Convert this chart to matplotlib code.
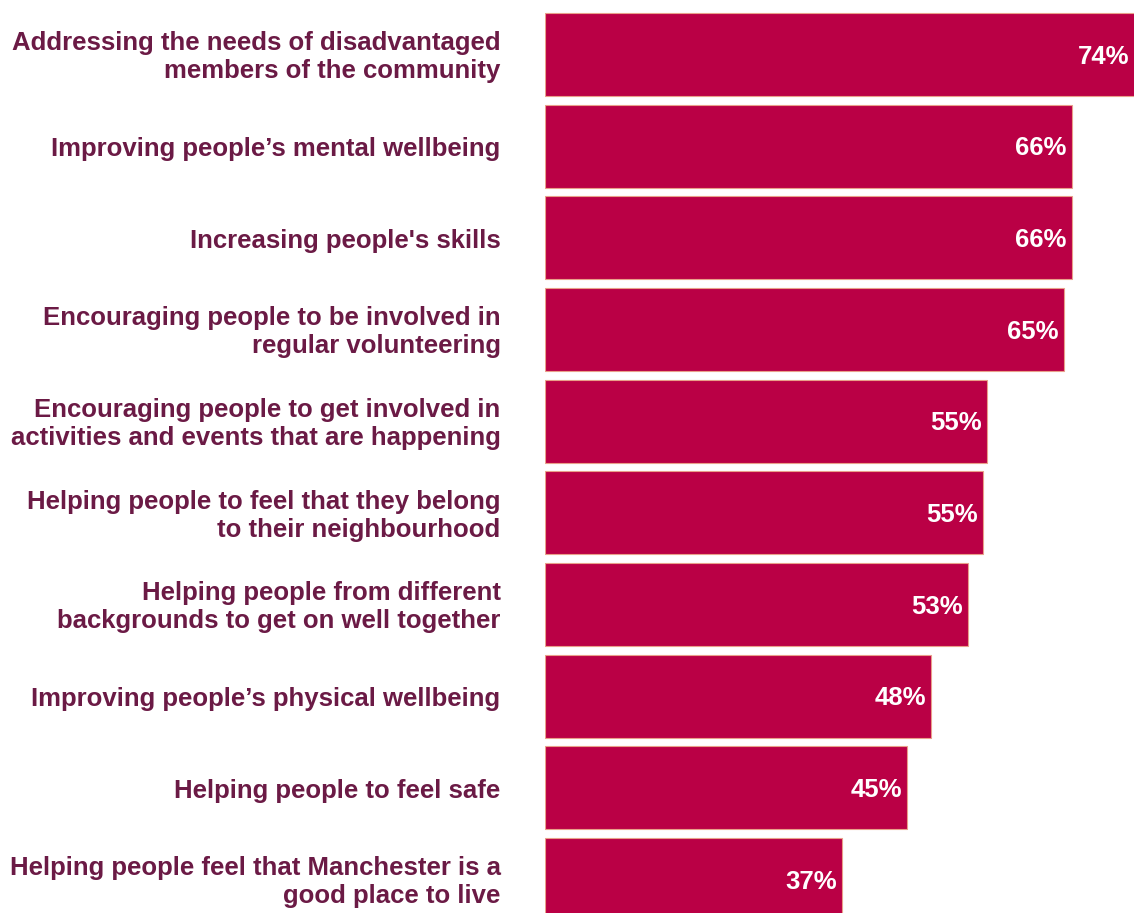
import matplotlib
matplotlib.use("Agg")
import matplotlib.pyplot as plt

categories = [
    "Addressing the needs of disadvantaged\nmembers of the community",
    "Improving people\u2019s mental wellbeing",
    "Increasing people's skills",
    "Encouraging people to be involved in\nregular volunteering",
    "Encouraging people to get involved in\nactivities and events that are happening",
    "Helping people to feel that they belong\nto their neighbourhood",
    "Helping people from different\nbackgrounds to get on well together",
    "Improving people\u2019s physical wellbeing",
    "Helping people to feel safe",
    "Helping people feel that Manchester is a\ngood place to live",
]
values = [74.0, 65.8, 65.8, 64.8, 55.2, 54.7, 52.8, 48.2, 45.2, 37.1]
value_labels = ["74%", "66%", "66%", "65%", "55%", "55%", "53%", "48%", "45%", "37%"]

plt.rcParams['font.family'] = ['Liberation Sans', 'DejaVu Sans']

fig = plt.figure(figsize=(11.34, 9.13), dpi=100)
ax = fig.add_axes([545/1134, 0, 1 - 545/1134, 1])

ypos = list(range(len(values)))
ax.barh(ypos, values, height=0.905, color="#BA0045",
        edgecolor="#E9A08A", linewidth=0.8)

ax.set_xlim(0, 73.6)
ax.set_ylim(9.365, -0.5945)

for y, v, lab in zip(ypos, values, value_labels):
    ax.annotate(lab, xy=(min(v, 73.6), y), xytext=(-3.5, -1.5), textcoords="offset points",
                ha="right", va="center", color="white", fontsize=18.5,
                fontweight="bold")

for y, cat in zip(ypos, categories):
    ax.annotate(cat, xy=(0, y), xycoords=("axes fraction", "data"),
                xytext=(-32, -2), textcoords="offset points",
                ha="right", va="center", color="#6B1A45", fontsize=18.5,
                fontweight="bold", linespacing=1.2, annotation_clip=False)

ax.axis("off")
fig.savefig("out.png", dpi=100)
